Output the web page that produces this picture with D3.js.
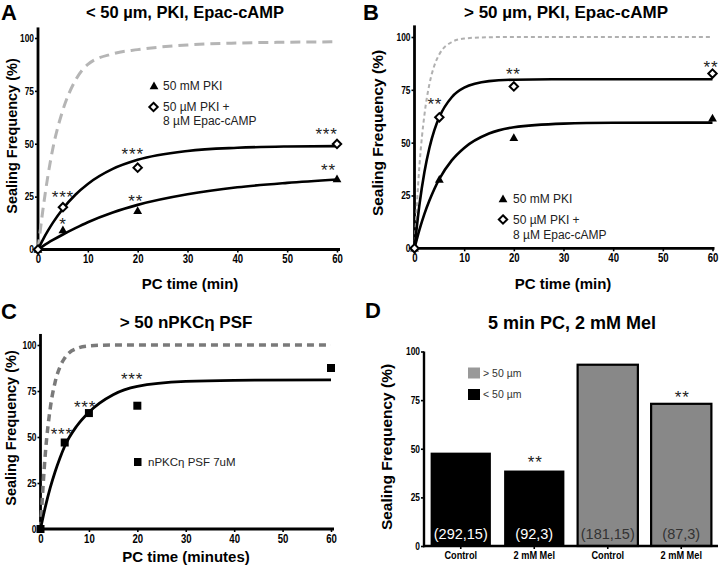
<!DOCTYPE html>
<html><head><meta charset="utf-8">
<script src="https://cdn.jsdelivr.net/npm/d3@7"></script>
<style>
body{margin:0;background:#fff}
svg{display:block}
text{font-family:"Liberation Sans",Arial,sans-serif}
</style></head><body><script>
// ---------- data ----------
const yTicks = [0,25,50,75,100];
const xTicks = [0,10,20,30,40,50,60];

// Panel A (< 50 um)
const timesMeasured = [0,5,20,60];
const pkiSmall = [0,9.2,18.3,33.3];
const epacSmall = [0,20,38.7,49.9];
const fitTimesA = [0,1,2,3,5,7.5,10,15,20,30,40,50,60];
const ctrlFitSmall = [0,19,35,48,66,80,87.5,92.5,94.5,96.7,97.6,98,98.2];
const pkiFitSmall = [0,1.6,3.1,4.5,7.1,10.1,12.9,17.5,21.1,26.1,29.4,31.5,33.1];
const epacFitSmall = [0,4.7,8.9,12.7,19.3,25.9,31,38.1,42.4,46.6,48.1,48.7,48.9];
const starTimesA = [5,5,19,19.6,57.9,58.3];
const starValsA = [26.6,14,47,25,56.5,39.6];
const starTextA = ["***","*","***","**","***","**"];

// Panel B (> 50 um)
const pkiLarge = [0,32.5,52.3,61.5];
const epacLarge = [0,62,76.6,82.7];
const fitTimesB = [0,1,2,3,4,5,7.5,10,15,20,30,40,60];
const ctrlFitLarge = [0,39.3,63.2,77.7,86.5,91.8,97.6,99.3,99.9,100,100,100,100];
const pkiFitLarge = [0,8.8,16.3,22.6,28.1,32.8,41.6,47.5,54.3,57.3,59,59.4,59.5];
const epacFitLarge = [0,20.7,36.1,47.5,55.9,62.1,71.5,76,79.1,79.8,80,80,80];
const starTimesB = [4.1,19.9,59.7];
const starValsB = [70,84.3,87.5];
const starTextB = ["**","**","**"];

// Panel C (nPKC eta PSF)
const timesPSF = [0,5,10,20,60];
const psfValues = [0,47,63,67,87.5];
const ctrlFitPSF = [0,41,65.4,79.6,88,92.9,98.1,99.5,100,100,100,100,100];
const psfFit = [0,12,22.3,31,38.5,45,56,63.5,73,77.5,80.2,80.8,81];
const starTimesC = [4.4,9.2,18.9];
const starValsC = [54,68.6,83.8];
const starTextC = ["***","***","***"];

// Panel D (bars)
const barCategories = ["Control","2 mM Mel","Control","2 mM Mel"];
const barGroups = ["< 50 µm","< 50 µm","> 50 µm","> 50 µm"];
const barValues = [48,38.8,93.2,73.1];
const barCounts = ["(292,15)","(92,3)","(181,15)","(87,3)"];
const barStars = ["","**","","**"];
const barStarVals = [0,45.3,0,78.9];
const legendGroups = ["> 50 µm","< 50 µm"];

// ---------- drawing ----------
const svg = d3.select("body").append("svg").attr("width",720).attr("height",567);
const zip = (a,b)=>a.map((v,i)=>[v,b[i]]);

function text(g,x,y,s,size,opts={}){
  const t = g.append("text").attr("x",x).attr("y",y).text(s)
    .attr("font-size",size).attr("fill",opts.fill||"#000")
    .attr("font-weight",opts.bold?"bold":"normal")
    .attr("text-anchor",opts.anchor||"start");
  if(opts.ls) t.attr("letter-spacing",opts.ls);
  return t;
}
function rotText(g,cx,cy,s,size){
  g.append("text").attr("transform",`translate(${cx},${cy}) rotate(-90)`)
    .attr("text-anchor","middle").attr("dy","0.35em").attr("font-weight","bold")
    .attr("font-size",size).text(s);
}
function styleAxis(a,size,isY){
  a.select(".domain").remove();
  a.selectAll(".tick line").attr("stroke","#000").attr("stroke-width",1.6);
  a.selectAll(".tick text").attr("font-size",size).attr("font-weight","bold")
    .attr("fill","#000");
  // condensed look (Arial Narrow style) by horizontal scaling around the anchor
  a.selectAll(".tick text").each(function(){
    const t = d3.select(this);
    const xx = +t.attr("x")||0;
    t.attr("transform",`translate(${xx*(1-0.8)},0) scale(0.8,1)`);
  });
}
function xyAxes(g,x,y,yTopVal,xEndPad){
  const ya = g.append("g").attr("transform",`translate(${x(0)},0)`)
    .call(d3.axisLeft(y).tickValues(yTicks).tickSize(3).tickPadding(1));
  styleAxis(ya,10.5,true);
  const xa = g.append("g").attr("transform",`translate(0,${y(0)})`)
    .call(d3.axisBottom(x).tickValues(xTicks).tickSize(3).tickPadding(2));
  styleAxis(xa,12,false);
  g.append("line").attr("x1",x(0)).attr("x2",x(0)).attr("y1",y(yTopVal)).attr("y2",y(0)+1.4)
    .attr("stroke","#000").attr("stroke-width",2.8);
  g.append("line").attr("x1",x(0)-1.4).attr("x2",x(60)+xEndPad).attr("y1",y(0)).attr("y2",y(0))
    .attr("stroke","#000").attr("stroke-width",2.8);
}
function curve(g,x,y,ts,vs,stroke,width,dash){
  const line = d3.line().x(d=>x(d[0])).y(d=>y(d[1])).curve(d3.curveMonotoneX);
  const p = g.append("path").attr("d",line(zip(ts,vs))).attr("fill","none")
    .attr("stroke",stroke).attr("stroke-width",width).attr("stroke-linecap","butt");
  if(dash) p.attr("stroke-dasharray",dash);
}
const triPath = "M0,-4.6L4.4,3.2L-4.4,3.2Z";
const diaPath = "M0,-4.2L4.2,0L0,4.2L-4.2,0Z";
function triangles(g,x,y,ts,vs){
  g.selectAll(null).data(zip(ts,vs)).join("path").attr("d",triPath)
    .attr("transform",d=>`translate(${x(d[0])},${y(d[1])})`).attr("fill","#000");
}
function diamonds(g,x,y,ts,vs){
  g.selectAll(null).data(zip(ts,vs)).join("path").attr("d",diaPath)
    .attr("transform",d=>`translate(${x(d[0])},${y(d[1])})`).attr("fill","#fff")
    .attr("stroke","#000").attr("stroke-width",2);
}
function squares(g,x,y,ts,vs){
  g.selectAll(null).data(zip(ts,vs)).join("rect")
    .attr("x",d=>x(d[0])-4).attr("y",d=>y(d[1])-4).attr("width",8).attr("height",8).attr("fill","#000");
}
function stars(g,x,y,ts,vs,ss){
  ts.forEach((t,i)=>{
    text(g,x(t),y(vs[i])+10,ss[i],17,{anchor:"middle",ls:0.8,fill:"#222"});
  });
}

// ---- Panel A ----
{
  const g = svg.append("g");
  const x = d3.scaleLinear([0,60],[38,337]);
  const y = d3.scaleLinear([0,100],[249.5,38]);
  xyAxes(g,x,y,105,3);
  curve(g,x,y,fitTimesA,ctrlFitSmall,"#b5b5b5",3,"10,6");
  curve(g,x,y,fitTimesA,pkiFitSmall,"#000",2.6);
  curve(g,x,y,fitTimesA,epacFitSmall,"#000",2.6);
  triangles(g,x,y,timesMeasured,pkiSmall);
  diamonds(g,x,y,timesMeasured,epacSmall);
  stars(g,x,y,starTimesA,starValsA,starTextA);
  g.append("path").attr("d",triPath).attr("transform","translate(154,86)");
  text(g,163,90,"50 mM PKI",12,{fill:"#222"});
  g.append("path").attr("d",diaPath).attr("transform","translate(153.5,107)")
    .attr("fill","#fff").attr("stroke","#000").attr("stroke-width",2);
  text(g,163,111,"50 µM PKI +",12,{fill:"#222"});
  text(g,163,125,"8 µM Epac-cAMP",12,{fill:"#222"});
  text(g,1,20,"A",22,{bold:true});
  text(g,185,18,"< 50 µm, PKI, Epac-cAMP",16.5,{bold:true,anchor:"middle"});
  rotText(g,12,136,"Sealing Frequency (%)",14.5);
  text(g,190,289,"PC time (min)",15,{bold:true,anchor:"middle"});
}

// ---- Panel B ----
{
  const g = svg.append("g");
  const x = d3.scaleLinear([0,60],[414.5,712.5]);
  const y = d3.scaleLinear([0,100],[248.3,37]);
  xyAxes(g,x,y,105.5,2);
  curve(g,x,y,fitTimesB,ctrlFitLarge,"#b0b0b0",2,"4,3");
  curve(g,x,y,fitTimesB,pkiFitLarge,"#000",2.6);
  curve(g,x,y,fitTimesB,epacFitLarge,"#000",2.6);
  triangles(g,x,y,timesMeasured,pkiLarge);
  diamonds(g,x,y,timesMeasured,epacLarge);
  stars(g,x,y,starTimesB,starValsB,starTextB);
  g.append("path").attr("d",triPath).attr("transform","translate(503,199)");
  text(g,513,203,"50 mM PKI",12,{fill:"#222"});
  g.append("path").attr("d",diaPath).attr("transform","translate(503,219.5)")
    .attr("fill","#fff").attr("stroke","#000").attr("stroke-width",2);
  text(g,513,224,"50 µM PKI +",12,{fill:"#222"});
  text(g,513,239,"8 µM Epac-cAMP",12,{fill:"#222"});
  text(g,363,20,"B",22,{bold:true});
  text(g,566,18,"> 50 µm, PKI, Epac-cAMP",17,{bold:true,anchor:"middle"});
  rotText(g,378,133,"Sealing Frequency (%)",15.5);
  text(g,563,289,"PC time (min)",15,{bold:true,anchor:"middle"});
}

// ---- Panel C ----
{
  const g = svg.append("g");
  const x = d3.scaleLinear([0,60],[40.5,331]);
  const y = d3.scaleLinear([0,100],[529,345]);
  xyAxes(g,x,y,106,3);
  curve(g,x,y,fitTimesB,ctrlFitPSF,"#7a7a7a",3.5,"7,5");
  curve(g,x,y,fitTimesB,psfFit,"#000",2.8);
  squares(g,x,y,timesPSF,psfValues);
  stars(g,x,y,starTimesC,starValsC,starTextC);
  g.append("rect").attr("x",134).attr("y",458).attr("width",7.5).attr("height",8);
  text(g,148,466,"nPKCη PSF 7uM",11.5,{fill:"#222"});
  text(g,1,319,"C",22,{bold:true});
  text(g,186,328,"> 50 nPKCη PSF",17,{bold:true,anchor:"middle"});
  rotText(g,11,428,"Sealing  Frequency (%)",14.5);
  text(g,186,562,"PC time (minutes)",15,{bold:true,anchor:"middle"});
}

// ---- Panel D ----
{
  const g = svg.append("g");
  const idx = barValues.map((_,i)=>i);
  const x = d3.scaleBand().domain(idx).range([424,718]).paddingInner(0.18).paddingOuter(0.09);
  const y = d3.scaleLinear([0,100],[546,351.5]);
  const color = d3.scaleOrdinal().domain(["< 50 µm","> 50 µm"]).range(["#000","#888"]);
  const ya = g.append("g").attr("transform",`translate(424,0)`)
    .call(d3.axisLeft(y).tickValues(yTicks).tickSize(3).tickPadding(1));
  styleAxis(ya,10.5,true);
  const xa = g.append("g").attr("transform",`translate(0,${y(0)})`)
    .call(d3.axisBottom(x).tickSize(3).tickPadding(2).tickFormat(i=>barCategories[i]));
  styleAxis(xa,11.5,false);
  g.selectAll(null).data(idx).join("rect")
    .attr("x",i=>x(i)).attr("width",x.bandwidth())
    .attr("y",i=>y(barValues[i])).attr("height",i=>y(0)-y(barValues[i]))
    .attr("fill",i=>color(barGroups[i]))
    .attr("stroke",i=>barGroups[i]==="> 50 µm"?"#000":"none").attr("stroke-width",2.2);
  g.append("line").attr("x1",424).attr("x2",424).attr("y1",y(100)).attr("y2",y(0)+1.2)
    .attr("stroke","#000").attr("stroke-width",2.4);
  g.append("line").attr("x1",423).attr("x2",718).attr("y1",y(0)).attr("y2",y(0))
    .attr("stroke","#000").attr("stroke-width",2.4);
  idx.forEach(i=>{
    text(g,x(i)+x.bandwidth()/2,538.5,barCounts[i],14.5,
      {anchor:"middle",fill:barGroups[i]==="< 50 µm"?"#fff":"#333"});
    if(barStars[i]) text(g,x(i)+x.bandwidth()/2+1,y(barStarVals[i])+10,barStars[i],17,{anchor:"middle",ls:0.8,fill:"#222"});
  });
  legendGroups.forEach((lg,j)=>{
    g.append("rect").attr("x",468).attr("y",367.5+j*21.5).attr("width",12).attr("height",11)
      .attr("fill",lg==="> 50 µm"?"#999":"#000");
    text(g,483,376.5+j*21.5,lg,10.5,{fill:"#333"});
  });
  text(g,365,318,"D",22,{bold:true});
  text(g,572,329,"5 min PC, 2 mM Mel",18,{bold:true,anchor:"middle"});
  rotText(g,387,447,"Sealing Frequency (%)",15.5);
}
</script></body></html>
